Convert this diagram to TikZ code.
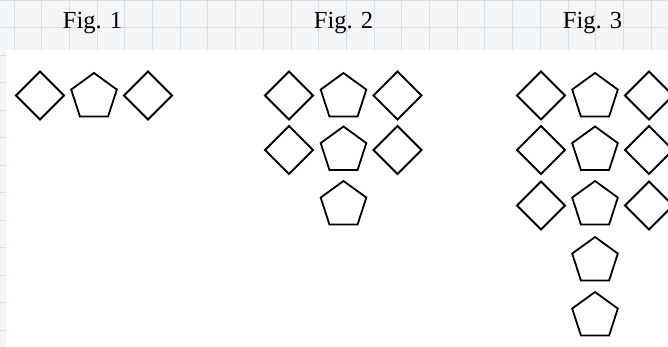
\documentclass[tikz,border=0pt]{standalone}
\usepackage{fontspec}
\setmainfont{Liberation Serif}
\usetikzlibrary{shapes.geometric}
\definecolor{gridbg}{HTML}{F3F5F7}
\definecolor{gridln}{HTML}{D8DEE6}
\tikzset{
  dia/.style={draw, line width=1.8pt, shape=diamond, aspect=1, minimum width=48pt, minimum height=48pt, inner sep=0pt, outer sep=0pt, line join=miter},
  pent/.style={draw, line width=1.8pt, regular polygon, regular polygon sides=5, minimum size=48pt, inner sep=0pt, outer sep=0pt, line join=miter},
  figlab/.style={anchor=base, inner sep=0pt, font=\fontsize{24.5}{28}\selectfont}
}
\begin{document}
\begin{tikzpicture}[x=1pt,y=-1pt]
\useasboundingbox (0,0) rectangle (668,347);
\clip (0,0) rectangle (668,347);
% graph-paper background strips
\fill[gridbg] (0,0) rectangle (668,50);
\fill[gridbg] (0,50) rectangle (6,347);
\begin{scope}
\clip (0,0) rectangle (668,50) (0,50) rectangle (6,347);
\foreach \gx in {0,...,24} {\draw[gridln, line width=0.9pt] (14+27.7*\gx,0) -- (14+27.7*\gx,347);}
\foreach \gy in {0,...,12} {\draw[gridln, line width=0.9pt] (0,27.5*\gy) -- (668,27.5*\gy);}
\end{scope}
% labels
\node[figlab] (f1) at (92.5,29) {Fig. 1};
\node[figlab] (f2) at (343.5,29) {Fig. 2};
\node[figlab] (f3) at (592.5,29) {Fig. 3};
% Fig. 1
\node[dia] (a1) at (40,95.5) {};
\node[pent] (a2) at (94,97) {};
\node[dia] (a3) at (148,95.5) {};
% Fig. 2
\node[dia] (b11) at (289,95.5) {};
\node[pent] (b12) at (343.5,97) {};
\node[dia] (b13) at (397.5,95.5) {};
\node[dia] (b21) at (289,150) {};
\node[pent] (b22) at (343.5,150.5) {};
\node[dia] (b23) at (397.5,150) {};
\node[pent] (b32) at (343.5,205) {};
% Fig. 3
\node[dia] (c11) at (541,95.5) {};
\node[pent] (c12) at (595,97) {};
\node[dia] (c13) at (649,95.5) {};
\node[dia] (c21) at (541,150) {};
\node[pent] (c22) at (595,150.5) {};
\node[dia] (c23) at (649,150) {};
\node[dia] (c31) at (541,205.5) {};
\node[pent] (c32) at (595,205) {};
\node[dia] (c33) at (649,205.5) {};
\node[pent] (c42) at (595,261) {};
\node[pent] (c52) at (595,316) {};
\end{tikzpicture}
\end{document}
